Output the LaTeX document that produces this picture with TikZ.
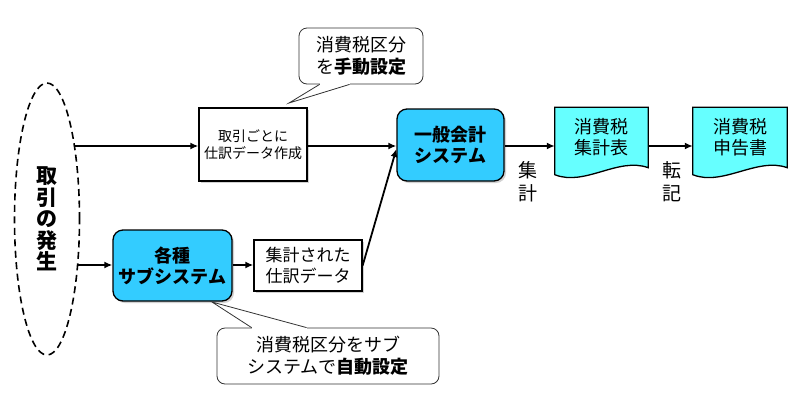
\documentclass[tikz,border=0pt]{standalone}
\usepackage{fontspec}
\newfontfamily\jp{Noto Sans CJK JP}
\usetikzlibrary{shapes.geometric,arrows.meta,shadows,calc}
\definecolor{sysblue}{RGB}{51,204,255}
\definecolor{doccyan}{RGB}{102,255,255}
\tikzset{
  flow/.style={line width=1.8pt,-{Latex[length=8pt,width=7pt]}},
  plainbox/.style={draw,line width=1.3pt,fill=white,align=center,inner sep=0pt,
    drop shadow={shadow xshift=2pt,shadow yshift=-2pt,opacity=0.35}},
  sysbox/.style={draw,line width=1.3pt,fill=sysblue,rounded corners=10pt,align=center,inner sep=0pt,
    font=\jp\bfseries\fontsize{18}{21}\selectfont,
    drop shadow={shadow xshift=2pt,shadow yshift=-2pt,opacity=0.35}},
  docfill/.style={draw,line width=1.3pt,fill=doccyan},
  doctext/.style={align=center,inner sep=0pt,font=\jp\fontsize{18}{21}\selectfont},
  callout/.style={draw=black!80,line width=0.8pt,fill=white,rounded corners=8pt,align=center,inner sep=0pt,
    font=\jp\fontsize{18}{22}\selectfont},
  pointer/.style={draw=black!80,line width=0.8pt},
  vlabel/.style={align=center,inner sep=0pt,font=\jp\fontsize{19}{23}\selectfont}
}
\begin{document}
\begin{tikzpicture}[x=1pt,y=-1pt]
\useasboundingbox (0,0) rectangle (800,416);
\fill[white] (0,0) rectangle (800,416);

% event ellipse
\node[ellipse,draw,dash pattern=on 7pt off 4.5pt,line width=1.6pt,minimum width=65pt,minimum height=272pt,inner sep=0pt,
  align=center,font=\jp\bfseries\fontsize{21}{21.5}\selectfont] (hassei) at (47,219)
  {取\\引\\の\\発\\生};
\coordinate (e1) at (74.5,146);
\coordinate (e2) at (77.6,265);

% boxes
\node[plainbox,minimum width=108pt,minimum height=73pt,font=\jp\fontsize{14}{17}\selectfont] (tori) at (253,144.5)
  {取引ごとに\\仕訳データ作成};
\node[sysbox,minimum width=107pt,minimum height=72pt] (ippan) at (450.5,145) {一般会計\\システム};
\node[sysbox,minimum width=119pt,minimum height=71pt] (kaku) at (172.5,265.5) {各種\\サブシステム};
\node[plainbox,minimum width=108pt,minimum height=51pt,font=\jp\fontsize{17}{21}\selectfont] (shuk) at (308,265.5)
  {集計された\\仕訳データ};

% documents
\node[minimum width=93pt,minimum height=69pt,inner sep=0pt] (hyo) at (601.5,142) {};
\node[minimum width=94pt,minimum height=69pt,inner sep=0pt] (sho) at (740,142) {};
\foreach \d in {hyo,sho}{
  \fill[black,opacity=0.35,xshift=2pt,yshift=-2pt] (\d.north west) -- (\d.north east) -- ($(\d.south east)+(0,-9)$)
    .. controls ($(\d.south east)+(-30,-20)$) and ($(\d.south west)+(30,10)$) .. ($(\d.south west)+(0,-2)$) -- cycle;
  \path[docfill] (\d.north west) -- (\d.north east) -- ($(\d.south east)+(0,-9)$)
    .. controls ($(\d.south east)+(-30,-20)$) and ($(\d.south west)+(30,10)$) .. ($(\d.south west)+(0,-2)$) -- cycle;
}
\node[doctext] at (601.5,137) {消費税\\集計表};
\node[doctext] at (740,137) {消費税\\申告書};

% connectors
\draw[flow] (e1) -- (tori.west |- e1);
\draw[flow] (tori.east |- e1) -- (ippan.west |- e1);
\draw[flow] (e2) -- (kaku.west |- e2);
\draw[flow] (kaku.east |- e2) -- (shuk.west |- e2);
\draw[flow] (shuk.east) -- ($(ippan.west)+(0,4)$);
\draw[flow] (ippan.east |- e1) -- (hyo.west |- e1);
\draw[flow] (hyo.east |- e1) -- (sho.west |- e1);

\node[vlabel] (lshu) at (528,182) {集\\計};
\node[vlabel] (lten) at (672,182) {転\\記};

% callouts
\node[callout,minimum width=124pt,minimum height=56pt] (tc) at (361,56)
  {消費税区分\\を\textbf{手動設定}};
\coordinate (tctip) at (289,103);
\fill[white] ($(tc.south west)+(21,1.5)$) rectangle ($(tc.south west)+(51,-1.5)$);
\draw[pointer] ($(tc.south west)+(21,0)$) -- (tctip) -- ($(tc.south west)+(51,0)$);

\node[callout,minimum width=222pt,minimum height=56pt] (bc) at (328,356)
  {消費税区分をサブ\\システムで\textbf{自動設定}};
\coordinate (bctip) at (212,302);
\fill[white] ($(bc.north west)+(35,-1.5)$) rectangle ($(bc.north west)+(90,1.5)$);
\draw[pointer] ($(bc.north west)+(35,0)$) -- (bctip) -- ($(bc.north west)+(90,0)$);
\end{tikzpicture}
\end{document}
